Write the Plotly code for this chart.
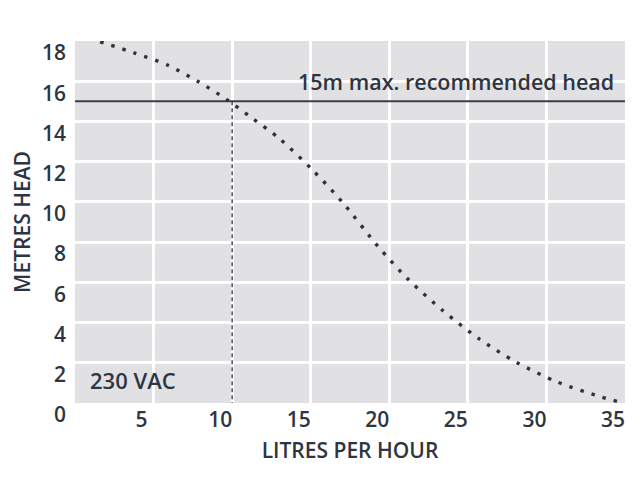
import plotly.graph_objects as go

# Pump curve (litres per hour vs metres head)
flow_lph = [1.6, 3.8, 5.9, 7.8, 9.6, 11.3, 13.0, 15.1, 17.0, 19.3, 21.2, 23.4, 25.7, 28.1, 30.7, 33.5, 34.9]
head_m = [17.96, 17.4, 16.8, 16.0, 15.12, 14.15, 13.15, 11.6, 10.0, 7.77, 6.15, 4.6, 3.2, 2.02, 1.04, 0.3, 0.0]

max_head = 15
max_head_flow = 10
x_ticks = [5, 10, 15, 20, 25, 30, 35]
y_ticks = [0, 2, 4, 6, 8, 10, 12, 14, 16, 18]
label_max = "15m max. recommended head"
label_volt = "230 VAC"

ink = "#2e3542"
font_family = "Open Sans"
weight = 600

fig = go.Figure()

# max head horizontal line
fig.add_trace(go.Scatter(
    x=[0, 35], y=[max_head, max_head], mode="lines",
    line=dict(color="#3a3f47", width=2), hoverinfo="skip", showlegend=False,
))
# dashed vertical drop
fig.add_trace(go.Scatter(
    x=[max_head_flow, max_head_flow], y=[max_head, 0], mode="lines",
    line=dict(color="#2f3339", width=1.3, dash="4px,3px"), hoverinfo="skip", showlegend=False,
))
# pump curve
fig.add_trace(go.Scatter(
    x=flow_lph, y=head_m, mode="lines",
    line=dict(color="#2f3339", width=3.4, dash="3.4px,8.2px", shape="spline", smoothing=0.8),
    showlegend=False,
))

fig.add_annotation(x=34.4, y=16.0, xref="x", yref="y", text=label_max, showarrow=False,
                   xanchor="right", yanchor="middle",
                   font=dict(family=font_family, size=21.5, color=ink, weight=weight))
fig.add_annotation(x=0.8, y=1.15, xref="x", yref="y", text=label_volt, showarrow=False,
                   xanchor="left", yanchor="middle",
                   font=dict(family=font_family, size=22, color=ink, weight=weight))

fig.update_layout(
    width=640, height=480,
    margin=dict(l=67, r=23, t=33, b=85, autoexpand=False),
    paper_bgcolor="white", plot_bgcolor="#e1e1e3",
    font=dict(family=font_family, size=21, color=ink, weight=weight),
)
fig.update_xaxes(
    range=[0, 35], tickvals=x_ticks, ticktext=[str(v) for v in x_ticks],
    showgrid=True, gridcolor="white", gridwidth=2.5, zeroline=False, showline=False,
    ticks="", ticklabelshift=-12, ticklabelstandoff=2, automargin=False,
    tickfont=dict(weight=weight),
    title=dict(text="LITRES PER HOUR", standoff=11, font=dict(size=21, color=ink, weight=weight)),
)
fig.update_yaxes(
    range=[0, 18], tickvals=y_ticks, ticktext=[str(v) for v in y_ticks],
    showgrid=True, gridcolor="white", gridwidth=2.5, zeroline=False, showline=False,
    ticks="", ticklabelshift=12, ticklabelstandoff=8, automargin=False,
    tickfont=dict(weight=weight),
    title=dict(text="METRES HEAD", standoff=8, font=dict(size=21, color=ink, weight=weight)),
)

fig.write_html("out.html")
